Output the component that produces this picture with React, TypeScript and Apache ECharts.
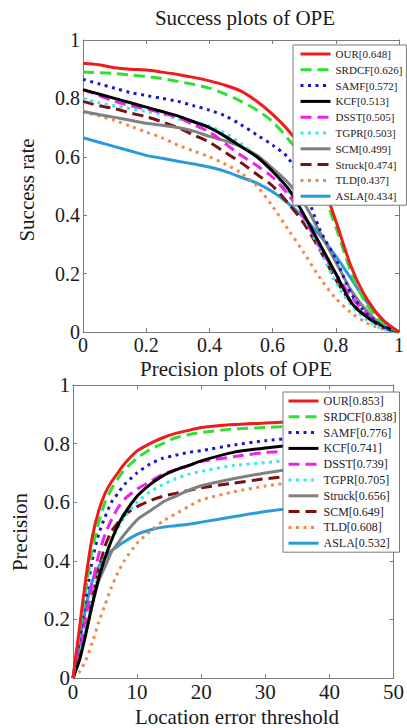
import React, { useEffect, useRef } from "react";
import * as echarts from "echarts";

// ---------- Success plot (overlap threshold) ----------
const successX = [0, 0.05, 0.1, 0.15, 0.2, 0.25, 0.3, 0.35, 0.4, 0.45, 0.5, 0.55, 0.6, 0.65, 0.7, 0.75, 0.8, 0.85, 0.9, 0.95, 1];
const successNames = ["OUR[0.648]", "SRDCF[0.626]", "SAMF[0.572]", "KCF[0.513]", "DSST[0.505]", "TGPR[0.503]", "SCM[0.499]", "Struck[0.474]", "TLD[0.437]", "ASLA[0.434]"];
const sOUR = [0.92, 0.915, 0.905, 0.9, 0.897, 0.89, 0.882, 0.872, 0.86, 0.845, 0.825, 0.79, 0.745, 0.69, 0.62, 0.53, 0.38, 0.22, 0.11, 0.04, 0];
const sSRDCF = [0.89, 0.888, 0.885, 0.88, 0.875, 0.868, 0.858, 0.848, 0.835, 0.815, 0.79, 0.76, 0.72, 0.66, 0.59, 0.5, 0.36, 0.2, 0.09, 0.03, 0];
const sSAMF = [0.865, 0.85, 0.835, 0.82, 0.81, 0.8, 0.79, 0.775, 0.76, 0.74, 0.71, 0.675, 0.64, 0.595, 0.49, 0.35, 0.25, 0.13, 0.06, 0.02, 0];
const sKCF = [0.83, 0.815, 0.8, 0.785, 0.77, 0.755, 0.74, 0.72, 0.7, 0.67, 0.635, 0.6, 0.55, 0.49, 0.4, 0.3, 0.2, 0.1, 0.05, 0.02, 0];
const sDSST = [0.83, 0.81, 0.79, 0.775, 0.765, 0.75, 0.735, 0.71, 0.685, 0.645, 0.605, 0.57, 0.53, 0.47, 0.39, 0.29, 0.2, 0.12, 0.06, 0.02, 0];
const sTGPR = [0.8, 0.785, 0.775, 0.765, 0.755, 0.745, 0.73, 0.72, 0.705, 0.68, 0.645, 0.6, 0.55, 0.48, 0.39, 0.28, 0.17, 0.09, 0.04, 0.01, 0];
const sSCM = [0.755, 0.745, 0.735, 0.725, 0.715, 0.708, 0.7, 0.688, 0.67, 0.655, 0.635, 0.605, 0.56, 0.51, 0.44, 0.34, 0.24, 0.14, 0.07, 0.02, 0];
const sStruck = [0.79, 0.775, 0.765, 0.75, 0.737, 0.72, 0.7, 0.675, 0.65, 0.615, 0.58, 0.54, 0.5, 0.44, 0.37, 0.28, 0.18, 0.1, 0.05, 0.015, 0];
const sTLD = [0.755, 0.74, 0.725, 0.705, 0.685, 0.665, 0.64, 0.62, 0.6, 0.575, 0.545, 0.5, 0.43, 0.35, 0.27, 0.185, 0.115, 0.065, 0.03, 0.01, 0];
const sASLA = [0.665, 0.65, 0.635, 0.62, 0.605, 0.595, 0.585, 0.575, 0.565, 0.55, 0.53, 0.51, 0.48, 0.44, 0.39, 0.33, 0.26, 0.18, 0.1, 0.04, 0];
const successValues = [sOUR, sSRDCF, sSAMF, sKCF, sDSST, sTGPR, sSCM, sStruck, sTLD, sASLA];

// ---------- Precision plot (location error threshold) ----------
const precisionX = [0, 1, 2, 3, 4, 5, 6, 7, 8, 10, 12, 14, 16, 18, 20, 25, 30, 35, 40, 45, 50];
const precisionNames = ["OUR[0.853]", "SRDCF[0.838]", "SAMF[0.776]", "KCF[0.741]", "DSST[0.739]", "TGPR[0.705]", "Struck[0.656]", "SCM[0.649]", "TLD[0.608]", "ASLA[0.532]"];
const pOUR = [0, 0.17, 0.34, 0.48, 0.57, 0.63, 0.67, 0.7, 0.73, 0.775, 0.8, 0.82, 0.835, 0.845, 0.855, 0.865, 0.87, 0.875, 0.88, 0.885, 0.89];
const pSRDCF = [0, 0.15, 0.3, 0.44, 0.53, 0.6, 0.645, 0.68, 0.71, 0.75, 0.78, 0.8, 0.82, 0.83, 0.838, 0.85, 0.855, 0.86, 0.865, 0.87, 0.875];
const pSAMF = [0, 0.13, 0.27, 0.4, 0.49, 0.55, 0.6, 0.63, 0.66, 0.7, 0.73, 0.75, 0.76, 0.77, 0.776, 0.795, 0.81, 0.82, 0.83, 0.84, 0.845];
const pKCF = [0, 0.06, 0.15, 0.25, 0.34, 0.41, 0.47, 0.52, 0.56, 0.62, 0.66, 0.69, 0.71, 0.725, 0.741, 0.77, 0.785, 0.795, 0.8, 0.81, 0.815];
const pDSST = [0, 0.1, 0.21, 0.32, 0.42, 0.49, 0.54, 0.58, 0.61, 0.645, 0.67, 0.695, 0.71, 0.725, 0.739, 0.755, 0.77, 0.775, 0.78, 0.785, 0.79];
const pTGPR = [0, 0.08, 0.17, 0.27, 0.36, 0.42, 0.47, 0.51, 0.55, 0.6, 0.635, 0.66, 0.68, 0.695, 0.705, 0.725, 0.735, 0.745, 0.75, 0.755, 0.76];
const pStruck = [0, 0.08, 0.16, 0.25, 0.33, 0.38, 0.43, 0.46, 0.49, 0.54, 0.57, 0.6, 0.62, 0.64, 0.656, 0.68, 0.7, 0.715, 0.725, 0.73, 0.735];
const pSCM = [0, 0.07, 0.16, 0.27, 0.37, 0.45, 0.5, 0.53, 0.555, 0.585, 0.605, 0.62, 0.63, 0.64, 0.649, 0.665, 0.68, 0.69, 0.695, 0.7, 0.705];
const pTLD = [0, 0.02, 0.06, 0.12, 0.19, 0.25, 0.31, 0.36, 0.4, 0.46, 0.5, 0.535, 0.56, 0.585, 0.608, 0.635, 0.655, 0.67, 0.68, 0.685, 0.69];
const pASLA = [0, 0.12, 0.24, 0.33, 0.38, 0.41, 0.435, 0.45, 0.465, 0.49, 0.505, 0.515, 0.52, 0.525, 0.532, 0.55, 0.568, 0.582, 0.595, 0.607, 0.618];
const precisionValues = [pOUR, pSRDCF, pSAMF, pKCF, pDSST, pTGPR, pStruck, pSCM, pTLD, pASLA];

// ---------- Styles (by rank position) ----------
const lineColors = ["#ee1c1c", "#2fe02f", "#1818cc", "#000000", "#ee22ee", "#30eaea", "#808080", "#7a1010", "#f08a4b", "#2b9ad8"];
const DASH = [11, 6];
const DOT = [3, 4.5];
const lineTypes: any[] = ["solid", DASH, DOT, "solid", DASH, DOT, "solid", DASH, DOT, "solid"];

const FONT = "Liberation Serif";
const FRAME = "#7a7a7a";

function makeAxes(grid: number, min: number, max: number, interval: number, fontSize: number, isX: boolean) {
  const main: any = {
    type: "value",
    gridIndex: grid,
    min,
    max,
    interval,
    position: isX ? "bottom" : "left",
    axisLine: { show: true, onZero: false, lineStyle: { color: FRAME, width: 1 } },
    axisTick: { show: true, inside: true, length: 4, lineStyle: { color: FRAME } },
    axisLabel: { color: "#1a1a1a", fontFamily: FONT, fontSize, margin: 3 },
    splitLine: { show: false },
  };
  const opp: any = {
    type: "value",
    gridIndex: grid,
    min,
    max,
    interval,
    position: isX ? "top" : "right",
    axisLine: { show: true, onZero: false, lineStyle: { color: FRAME, width: 1 } },
    axisTick: { show: true, inside: true, length: 4, lineStyle: { color: FRAME } },
    axisLabel: { show: false },
    splitLine: { show: false },
  };
  return [main, opp];
}

export default function App() {
  const ref = useRef<HTMLDivElement>(null);
  useEffect(() => {
    if (!ref.current) return;
    const chart = echarts.init(ref.current, null, { renderer: "svg" });

    const series: any[] = [];
    successNames.forEach((name, i) => {
      series.push({
        type: "line",
        name,
        xAxisIndex: 0,
        yAxisIndex: 0,
        symbol: "none",
        smooth: 0.3,
        clip: true,
        lineStyle: { color: lineColors[i], width: 3, type: lineTypes[i], cap: "butt" },
        itemStyle: { color: lineColors[i] },
        data: successX.map((x, k) => [x, successValues[i][k]]),
        z: 20 - i,
      });
    });
    precisionNames.forEach((name, i) => {
      series.push({
        type: "line",
        name,
        xAxisIndex: 2,
        yAxisIndex: 2,
        symbol: "none",
        smooth: 0.2,
        clip: true,
        lineStyle: { color: lineColors[i], width: 3, type: lineTypes[i], cap: "butt" },
        itemStyle: { color: lineColors[i] },
        data: precisionX.map((x, k) => [x, precisionValues[i][k]]),
        z: 20 - i,
      });
    });

    const legendBase: any = {
      orient: "vertical",
      itemWidth: 30,
      itemHeight: 12,
      itemGap: 3.8,
      borderColor: FRAME,
      borderWidth: 1,
      borderRadius: 0,
      backgroundColor: "#ffffff",
      selectedMode: false,
      lineStyle: { width: 3, type: "inherit", color: "inherit" },
      itemStyle: { color: "rgba(0,0,0,0)", borderColor: "rgba(0,0,0,0)", borderWidth: 0, opacity: 0 },
      z: 50,
    };

    const option: any = {
      animation: false,
      backgroundColor: "#ffffff",
      textStyle: { fontFamily: FONT },
      grid: [
        { left: 83, top: 40, width: 322, height: 292, containLabel: false },
        { left: 73, top: 385, width: 322, height: 293, containLabel: false },
      ],
      xAxis: [
        ...makeAxes(0, 0, 1, 0.2, 20, true),
        ...makeAxes(1, 0, 50, 10, 21, true),
      ],
      yAxis: [
        ...makeAxes(0, 0, 1, 0.2, 20, false),
        ...makeAxes(1, 0, 1, 0.2, 21, false),
      ],
      legend: [
        {
          ...legendBase,
          left: 293,
          top: 45,
          padding: [3, 4, 3, 6],
          textStyle: { fontFamily: FONT, fontSize: 11, color: "#222", lineHeight: 12 },
          data: successNames,
        },
        {
          ...legendBase,
          left: 283,
          top: 392,
          padding: [3, 3, 3, 4],
          textStyle: { fontFamily: FONT, fontSize: 12, color: "#222", lineHeight: 12 },
          data: precisionNames,
        },
      ],
      graphic: [
        {
          type: "text",
          x: 245,
          y: 18,
          style: { text: "Success plots of OPE", fontFamily: FONT, fontSize: 21, fill: "#1a1a1a", textAlign: "center", textVerticalAlign: "middle" },
        },
        {
          type: "text",
          x: 236,
          y: 369,
          style: { text: "Precision plots of OPE", fontFamily: FONT, fontSize: 21, fill: "#1a1a1a", textAlign: "center", textVerticalAlign: "middle" },
        },
        {
          type: "text",
          x: 27,
          y: 190,
          rotation: Math.PI / 2,
          style: { text: "Success rate", fontFamily: FONT, fontSize: 21, fill: "#1a1a1a", textAlign: "center", textVerticalAlign: "middle" },
        },
        {
          type: "text",
          x: 20,
          y: 532,
          rotation: Math.PI / 2,
          style: { text: "Precision", fontFamily: FONT, fontSize: 21, fill: "#1a1a1a", textAlign: "center", textVerticalAlign: "middle" },
        },
        {
          type: "text",
          x: 237,
          y: 717,
          style: { text: "Location error threshold", fontFamily: FONT, fontSize: 21, fill: "#1a1a1a", textAlign: "center", textVerticalAlign: "middle" },
        },
      ],
      series,
    };
    chart.setOption(option);
    return () => chart.dispose();
  }, []);
  return <div ref={ref} style={{ position: "absolute", left: 0, top: 0, width: 407, height: 728 }} />;
}
